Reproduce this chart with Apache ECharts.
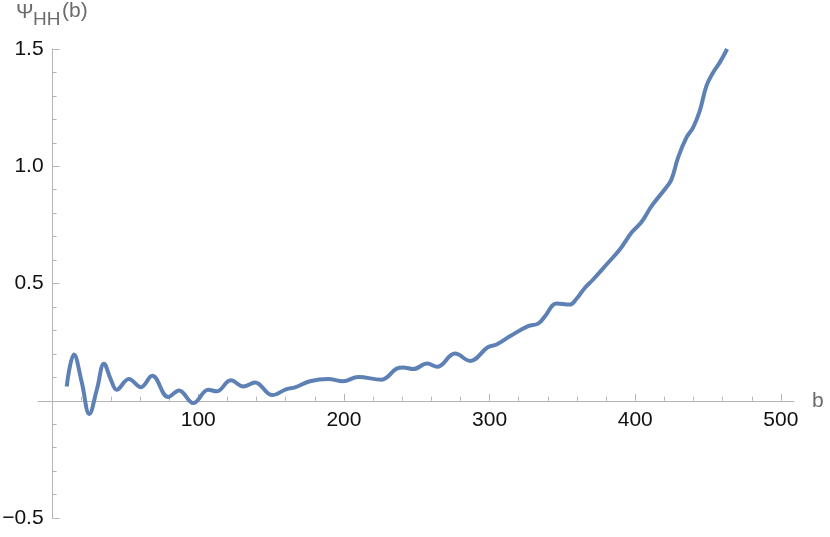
<!DOCTYPE html>
<html>
<head>
<meta charset="utf-8">
<script src="https://cdn.jsdelivr.net/npm/echarts@6/dist/echarts.min.js"></script>
<style>html,body{margin:0;padding:0;background:#fff}#c{width:830px;height:537px}</style>
</head>
<body>
<div id="c"></div>
<script>
const bValues = [9.7, 14.7, 20, 25.2, 30.5, 35.3, 40, 44, 52.4, 60.7, 68.4, 79.4, 86.8, 96.6, 106.9, 112.6, 122.4, 130.9, 139, 150.8, 160.7, 166.4, 176.7, 189.2, 199.5, 209.8, 225.9, 236.2, 240.7, 247.6, 257.2, 264, 276.3, 286.7, 298.8, 304.8, 314.5, 326.5, 333.4, 338, 346, 355.1, 359.7, 365.4, 371.1, 380.3, 389.4, 397.5, 404.3, 411.2, 420.3, 424.9, 429.4, 435.2, 439.7, 444.3, 448.9, 453.5, 458.1, 463.1];
const psiValues = [0.061, 0.197, 0.08, -0.056, 0.05, 0.158, 0.09, 0.047, 0.093, 0.058, 0.107, 0.016, 0.044, -0.010, 0.047, 0.040, 0.087, 0.061, 0.078, 0.024, 0.050, 0.057, 0.083, 0.093, 0.083, 0.101, 0.090, 0.137, 0.142, 0.135, 0.159, 0.145, 0.201, 0.170, 0.228, 0.240, 0.277, 0.318, 0.329, 0.360, 0.415, 0.410, 0.435, 0.481, 0.517, 0.581, 0.645, 0.717, 0.762, 0.830, 0.902, 0.944, 1.037, 1.123, 1.165, 1.236, 1.343, 1.400, 1.443, 1.500];
const xMajorTicks = [100, 200, 300, 400, 500];
const xMinorTicks = [20, 40, 60, 80, 120, 140, 160, 180, 220, 240, 260, 280, 320, 340, 360, 380, 420, 440, 460, 480];
const yMajorTicks = [-0.5, 0.5, 1.0, 1.5];
const yMinorTicks = [-0.4, -0.3, -0.2, -0.1, 0.1, 0.2, 0.3, 0.4, 0.6, 0.7, 0.8, 0.9, 1.1, 1.2, 1.3, 1.4];

const FONT = "'Liberation Sans', Arial, sans-serif";
const AXIS_COLOR = '#b4b4b4';
const NAME_COLOR = '#6b6b6b';
const X_MIN = -10, X_MAX = 509, Y_MIN = -0.5, Y_MAX = 1.5;

const chart = echarts.init(document.getElementById('c'), null, {renderer: 'canvas'});
const hidden = {show: false};
const hiddenAxis = {axisLine: hidden, axisTick: hidden, axisLabel: hidden, splitLine: hidden};
chart.setOption({
  animation: false,
  grid: [
    // plot area
    {left: 38, right: 36, top: 49, bottom: 19, outerBoundsMode: 'none', containLabel: false},
    // x-axis carrier (bottom edge at y = 0)
    {left: 38, right: 36, top: 49, bottom: 136.25, outerBoundsMode: 'none', containLabel: false},
    // y-axis carrier (left edge at b = 0)
    {left: 52.6, right: 36, top: 49, bottom: 19, outerBoundsMode: 'none', containLabel: false}
  ],
  xAxis: [
    Object.assign({type: 'value', min: X_MIN, max: X_MAX, gridIndex: 0}, hiddenAxis),
    {type: 'value', min: X_MIN, max: X_MAX, gridIndex: 1, position: 'bottom', splitLine: hidden,
      axisLine: {show: true, onZero: false, lineStyle: {color: AXIS_COLOR, width: 1}},
      axisTick: {show: true, inside: true, length: 7, customValues: xMajorTicks, lineStyle: {color: AXIS_COLOR}},
      axisLabel: {show: true, customValues: xMajorTicks, margin: 9, color: '#111', fontSize: 21, fontFamily: FONT},
      name: 'b', nameLocation: 'end', nameGap: 18,
      nameTextStyle: {color: NAME_COLOR, fontSize: 21, fontFamily: FONT, verticalAlign: 'middle'}
    },
    {type: 'value', min: X_MIN, max: X_MAX, gridIndex: 1, position: 'bottom', splitLine: hidden,
      axisLine: {show: false, onZero: false},
      axisTick: {show: true, inside: true, length: 4, customValues: xMinorTicks, lineStyle: {color: AXIS_COLOR}},
      axisLabel: hidden
    },
    Object.assign({type: 'value', min: 0, max: X_MAX, gridIndex: 2}, hiddenAxis)
  ],
  yAxis: [
    Object.assign({type: 'value', min: Y_MIN, max: Y_MAX, gridIndex: 0}, hiddenAxis),
    Object.assign({type: 'value', min: 0, max: Y_MAX, gridIndex: 1}, hiddenAxis),
    {type: 'value', min: Y_MIN, max: Y_MAX, gridIndex: 2, position: 'left', splitLine: hidden,
      axisLine: {show: true, onZero: false, lineStyle: {color: AXIS_COLOR, width: 1}},
      axisTick: {show: true, inside: true, length: 7, customValues: yMajorTicks, lineStyle: {color: AXIS_COLOR}},
      axisLabel: {show: true, customValues: yMajorTicks, margin: 9, color: '#111', fontSize: 21, fontFamily: FONT,
        formatter: v => (v < 0 ? '\u2212' : '') + Math.abs(v).toFixed(1)}
    },
    {type: 'value', min: Y_MIN, max: Y_MAX, gridIndex: 2, position: 'left', splitLine: hidden,
      axisLine: {show: false, onZero: false},
      axisTick: {show: true, inside: true, length: 4, customValues: yMinorTicks, lineStyle: {color: AXIS_COLOR}},
      axisLabel: hidden
    }
  ],
  graphic: [
    {type: 'text', left: 16, top: 2, style: {text: '\u03A8', fill: NAME_COLOR, font: '21px ' + FONT}},
    {type: 'text', left: 33, top: 10, style: {text: 'HH', fill: NAME_COLOR, font: '19px ' + FONT}},
    {type: 'text', left: 62, top: 1, style: {text: '(b)', fill: NAME_COLOR, font: '21px ' + FONT}}
  ],
  series: [{
    type: 'line',
    xAxisIndex: 0, yAxisIndex: 0,
    data: bValues.map((b, i) => [b, psiValues[i]]),
    showSymbol: false,
    smooth: 0.4,
    clip: false,
    lineStyle: {color: '#5e81b5', width: 4},
    itemStyle: {color: '#5e81b5'}
  }]
});
</script>
</body>
</html>
